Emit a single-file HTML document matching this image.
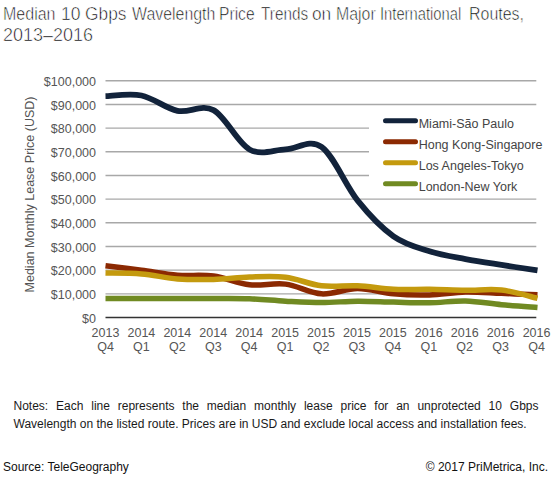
<!DOCTYPE html>
<html><head><meta charset="utf-8">
<style>
html,body{margin:0;padding:0;background:#ffffff;}
body{width:556px;height:486px;overflow:hidden;position:relative;font-family:"Liberation Sans",sans-serif;}
.title{position:absolute;left:3px;top:0px;font-size:18px;line-height:21px;color:#000000;white-space:nowrap;-webkit-text-stroke:0.6px #ffffff;}
.title div{position:absolute;left:0;white-space:nowrap;transform-origin:0 0;}
svg{position:absolute;left:0;top:0;}
.notes{position:absolute;left:13.5px;top:397px;width:525px;font-size:12px;line-height:18px;color:#1a1a1a;text-align:justify;text-align-last:left;}
.src{position:absolute;left:3px;top:460.2px;font-size:12px;color:#111;white-space:nowrap;}
.copy{position:absolute;right:8px;top:460.2px;font-size:12px;color:#111;white-space:nowrap;}
</style></head><body>
<svg width="556" height="486" viewBox="0 0 556 486">
<g><line x1="105.5" x2="536.3" y1="293.83" y2="293.83" stroke="#a8a8a8" stroke-width="1.4"/><line x1="105.5" x2="536.3" y1="270.16" y2="270.16" stroke="#a8a8a8" stroke-width="1.4"/><line x1="105.5" x2="536.3" y1="246.49" y2="246.49" stroke="#a8a8a8" stroke-width="1.4"/><line x1="105.5" x2="536.3" y1="222.82" y2="222.82" stroke="#a8a8a8" stroke-width="1.4"/><line x1="105.5" x2="536.3" y1="199.15" y2="199.15" stroke="#a8a8a8" stroke-width="1.4"/><line x1="105.5" x2="536.3" y1="175.48" y2="175.48" stroke="#a8a8a8" stroke-width="1.4"/><line x1="105.5" x2="536.3" y1="151.81" y2="151.81" stroke="#a8a8a8" stroke-width="1.4"/><line x1="105.5" x2="536.3" y1="128.14" y2="128.14" stroke="#a8a8a8" stroke-width="1.4"/><line x1="105.5" x2="536.3" y1="104.47" y2="104.47" stroke="#a8a8a8" stroke-width="1.4"/><line x1="105.5" x2="536.3" y1="80.80" y2="80.80" stroke="#a8a8a8" stroke-width="1.4"/></g>
<line x1="105.5" x2="536.3" y1="317.50" y2="317.50" stroke="#333333" stroke-width="1.4"/>
<g fill="none" stroke-width="5.8" stroke-linejoin="round" stroke-linecap="butt">
<path d="M105.50,96.19 C111.50,96.07 129.50,93.03 141.50,95.48 C153.50,97.92 165.50,108.42 177.50,110.86 C189.50,113.31 201.50,103.72 213.50,110.15 C225.50,116.58 237.50,142.89 249.50,149.44 C261.50,155.99 273.50,149.88 285.50,149.44 C297.50,149.01 309.50,138.36 321.50,146.84 C333.50,155.32 345.50,185.42 357.50,200.33 C369.50,215.25 381.50,227.83 393.50,236.31 C405.50,244.79 417.50,247.44 429.50,251.22 C441.50,255.01 453.50,256.75 465.50,259.04 C477.50,261.32 489.50,263.06 501.50,264.95 C513.50,266.85 531.50,269.49 537.50,270.40" stroke="#12233b"/>
<path d="M105.50,265.66 C111.50,266.41 129.50,268.58 141.50,270.16 C153.50,271.74 165.50,274.14 177.50,275.13 C189.50,276.12 201.50,274.46 213.50,276.08 C225.50,277.69 237.50,283.49 249.50,284.84 C261.50,286.18 273.50,282.63 285.50,284.13 C297.50,285.62 309.50,293.08 321.50,293.83 C333.50,294.58 345.50,288.62 357.50,288.62 C369.50,288.62 381.50,292.78 393.50,293.83 C405.50,294.88 417.50,295.21 429.50,294.90 C441.50,294.58 453.50,292.19 465.50,291.94 C477.50,291.68 489.50,292.88 501.50,293.36 C513.50,293.83 531.50,294.54 537.50,294.78" stroke="#8b2902" stroke-width="5.5"/>
<path d="M105.50,273.00 C111.50,273.16 129.50,272.96 141.50,273.95 C153.50,274.93 165.50,278.01 177.50,278.92 C189.50,279.83 201.50,279.71 213.50,279.39 C225.50,279.08 237.50,277.38 249.50,277.02 C261.50,276.67 273.50,275.80 285.50,277.26 C297.50,278.72 309.50,284.36 321.50,285.78 C333.50,287.20 345.50,285.19 357.50,285.78 C369.50,286.37 381.50,288.74 393.50,289.33 C405.50,289.92 417.50,289.17 429.50,289.33 C441.50,289.49 453.50,290.16 465.50,290.28 C477.50,290.40 489.50,288.70 501.50,290.04 C513.50,291.38 531.50,296.95 537.50,298.33" stroke="#c49a0e" stroke-width="5.5"/>
<path d="M105.50,298.56 C111.50,298.56 129.50,298.56 141.50,298.56 C153.50,298.56 165.50,298.56 177.50,298.56 C189.50,298.56 201.50,298.52 213.50,298.56 C225.50,298.60 237.50,298.37 249.50,298.80 C261.50,299.23 273.50,300.54 285.50,301.17 C297.50,301.80 309.50,302.59 321.50,302.59 C333.50,302.59 345.50,301.25 357.50,301.17 C369.50,301.09 381.50,301.84 393.50,302.11 C405.50,302.39 417.50,303.02 429.50,302.82 C441.50,302.63 453.50,300.62 465.50,300.93 C477.50,301.25 489.50,303.61 501.50,304.72 C513.50,305.82 531.50,307.09 537.50,307.56" stroke="#708a22" stroke-width="5.5"/>
</g>
<g font-family="Liberation Sans, sans-serif" font-size="12.5" fill="#555555"><text x="96" y="322.70" text-anchor="end">$0</text><text x="96" y="299.03" text-anchor="end">$10,000</text><text x="96" y="275.36" text-anchor="end">$20,000</text><text x="96" y="251.69" text-anchor="end">$30,000</text><text x="96" y="228.02" text-anchor="end">$40,000</text><text x="96" y="204.35" text-anchor="end">$50,000</text><text x="96" y="180.68" text-anchor="end">$60,000</text><text x="96" y="157.01" text-anchor="end">$70,000</text><text x="96" y="133.34" text-anchor="end">$80,000</text><text x="96" y="109.67" text-anchor="end">$90,000</text><text x="96" y="86.00" text-anchor="end">$100,000</text><text x="105.50" y="336.6" text-anchor="middle">2013</text><text x="105.50" y="350.7" text-anchor="middle">Q4</text><text x="141.42" y="336.6" text-anchor="middle">2014</text><text x="141.42" y="350.7" text-anchor="middle">Q1</text><text x="177.34" y="336.6" text-anchor="middle">2014</text><text x="177.34" y="350.7" text-anchor="middle">Q2</text><text x="213.26" y="336.6" text-anchor="middle">2014</text><text x="213.26" y="350.7" text-anchor="middle">Q3</text><text x="249.18" y="336.6" text-anchor="middle">2014</text><text x="249.18" y="350.7" text-anchor="middle">Q4</text><text x="285.10" y="336.6" text-anchor="middle">2015</text><text x="285.10" y="350.7" text-anchor="middle">Q1</text><text x="321.02" y="336.6" text-anchor="middle">2015</text><text x="321.02" y="350.7" text-anchor="middle">Q2</text><text x="356.94" y="336.6" text-anchor="middle">2015</text><text x="356.94" y="350.7" text-anchor="middle">Q3</text><text x="392.86" y="336.6" text-anchor="middle">2015</text><text x="392.86" y="350.7" text-anchor="middle">Q4</text><text x="428.78" y="336.6" text-anchor="middle">2016</text><text x="428.78" y="350.7" text-anchor="middle">Q1</text><text x="464.70" y="336.6" text-anchor="middle">2016</text><text x="464.70" y="350.7" text-anchor="middle">Q2</text><text x="500.62" y="336.6" text-anchor="middle">2016</text><text x="500.62" y="350.7" text-anchor="middle">Q3</text><text x="536.54" y="336.6" text-anchor="middle">2016</text><text x="536.54" y="350.7" text-anchor="middle">Q4</text></g>
<rect x="369" y="110" width="168" height="86" fill="#ffffff"/><line x1="385.5" x2="415.5" y1="120.80" y2="120.80" stroke="#12233b" stroke-width="5" stroke-linecap="round"/><text font-family="Liberation Sans, sans-serif" font-size="12.5" fill="#444" x="418.7" y="127.70">Miami-São Paulo</text><line x1="385.5" x2="415.5" y1="141.75" y2="141.75" stroke="#8b2902" stroke-width="5" stroke-linecap="round"/><text font-family="Liberation Sans, sans-serif" font-size="12.5" fill="#444" x="418.7" y="148.65">Hong Kong-Singapore</text><line x1="385.5" x2="415.5" y1="162.70" y2="162.70" stroke="#c49a0e" stroke-width="5" stroke-linecap="round"/><text font-family="Liberation Sans, sans-serif" font-size="12.5" fill="#444" x="418.7" y="169.60">Los Angeles-Tokyo</text><line x1="385.5" x2="415.5" y1="183.65" y2="183.65" stroke="#708a22" stroke-width="5" stroke-linecap="round"/><text font-family="Liberation Sans, sans-serif" font-size="12.5" fill="#444" x="418.7" y="190.55">London-New York</text>
<text transform="translate(33.5,194.5) rotate(-90)" text-anchor="middle" font-family="Liberation Sans, sans-serif" font-size="12.5" fill="#555555">Median Monthly Lease Price (USD)</text>
</svg>
<div class="title"><div style="top:4.2px;left:-0.09px;transform:scaleX(0.8895)">Median</div><div style="top:4.2px;left:58.03px;transform:scaleX(0.9737)">10</div><div style="top:4.2px;left:81.64px;transform:scaleX(0.9643)">Gbps</div><div style="top:4.2px;left:128.50px;transform:scaleX(0.8830)">Wavelength</div><div style="top:4.2px;left:216.43px;transform:scaleX(0.8692)">Price</div><div style="top:4.2px;left:257.50px;transform:scaleX(0.8527)">Trends</div><div style="top:4.2px;left:309.04px;transform:scaleX(0.9611)">on</div><div style="top:4.2px;left:333.02px;transform:scaleX(0.8818)">Major</div><div style="top:4.2px;left:376.56px;transform:scaleX(0.8198)">International</div><div style="top:4.2px;left:465.51px;transform:scaleX(0.8867)">Routes,</div><div style="top:25px">2013–2016</div></div>
<div class="notes">Notes: Each line represents the median monthly lease price for an unprotected 10 Gbps Wavelength on the listed route. Prices are in USD and exclude local access and installation fees.</div>
<div class="src">Source: TeleGeography</div>
<div class="copy">© 2017 PriMetrica, Inc.</div>
</body></html>
